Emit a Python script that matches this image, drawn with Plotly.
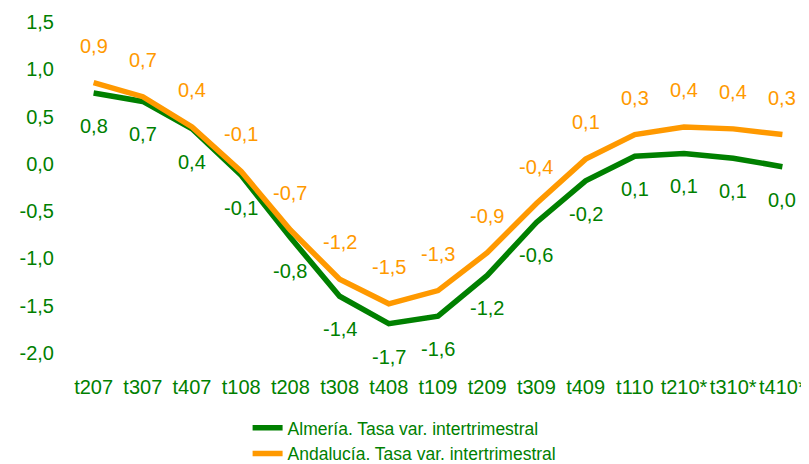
import plotly.graph_objects as go

categories = ["t207", "t307", "t407", "t108", "t208", "t308", "t408", "t109",
              "t209", "t309", "t409", "t110", "t210*", "t310*", "t410*"]
almeria = [0.75, 0.66, 0.37, -0.12, -0.78, -1.40, -1.69, -1.61,
           -1.18, -0.62, -0.18, 0.08, 0.11, 0.06, -0.03]
andalucia = [0.86, 0.71, 0.39, -0.08, -0.70, -1.22, -1.48, -1.34,
             -0.94, -0.42, 0.05, 0.31, 0.39, 0.37, 0.31]
yticks = [1.5, 1.0, 0.5, 0.0, -0.5, -1.0, -1.5, -2.0]

GREEN = "#008000"
ORANGE = "#FF9900"
FONT = "Liberation Sans, Arial, sans-serif"


def fmt(v):
    r = round(v, 1)
    if r == 0:
        r = 0.0
    return f"{abs(r) if r == 0 else r:.1f}".replace(".", ",")


fig = go.Figure()
fig.add_trace(go.Scatter(x=categories, y=almeria, mode="lines",
                         name="Almería. Tasa var. intertrimestral",
                         line=dict(color=GREEN, width=5.5)))
fig.add_trace(go.Scatter(x=categories, y=andalucia, mode="lines",
                         name="Andalucía. Tasa var. intertrimestral",
                         line=dict(color=ORANGE, width=5.5)))

annotations = []
for c, v in zip(categories, andalucia):
    annotations.append(dict(x=c, y=v, text=fmt(v), showarrow=False, yshift=37,
                            font=dict(family=FONT, size=20, color=ORANGE)))
for c, v in zip(categories, almeria):
    annotations.append(dict(x=c, y=v, text=fmt(v), showarrow=False, yshift=-33,
                            font=dict(family=FONT, size=20, color=GREEN)))

# page body has an 8px margin, so the figure is sized/offset to compensate;
# the figure runs a little past the bottom of the window so the legend fits
fig.update_layout(
    width=801, height=480,
    margin=dict(l=61, r=2, t=14, b=135, autoexpand=False),
    plot_bgcolor="white", paper_bgcolor="white",
    font=dict(family=FONT, color=GREEN),
    annotations=annotations,
    showlegend=True,
    legend=dict(x=0.242, y=-0.172, xanchor="left", yanchor="top",
                font=dict(family=FONT, size=17.5, color=GREEN),
                tracegroupgap=0, borderwidth=0, bgcolor="rgba(0,0,0,0)"),
    xaxis=dict(type="category", showgrid=False, showline=False, zeroline=False,
               automargin=False,
               tickfont=dict(family=FONT, size=20, color=GREEN),
               ticks="", ticklabelstandoff=20, range=[-0.5, 14.5]),
    yaxis=dict(range=[-2.0, 1.5], tickvals=yticks,
               ticktext=[fmt(t) for t in yticks], automargin=False,
               showgrid=False, showline=False, zeroline=False,
               tickfont=dict(family=FONT, size=20, color=GREEN),
               ticks="", ticklabelstandoff=14),
)

fig.write_html("out.html")
